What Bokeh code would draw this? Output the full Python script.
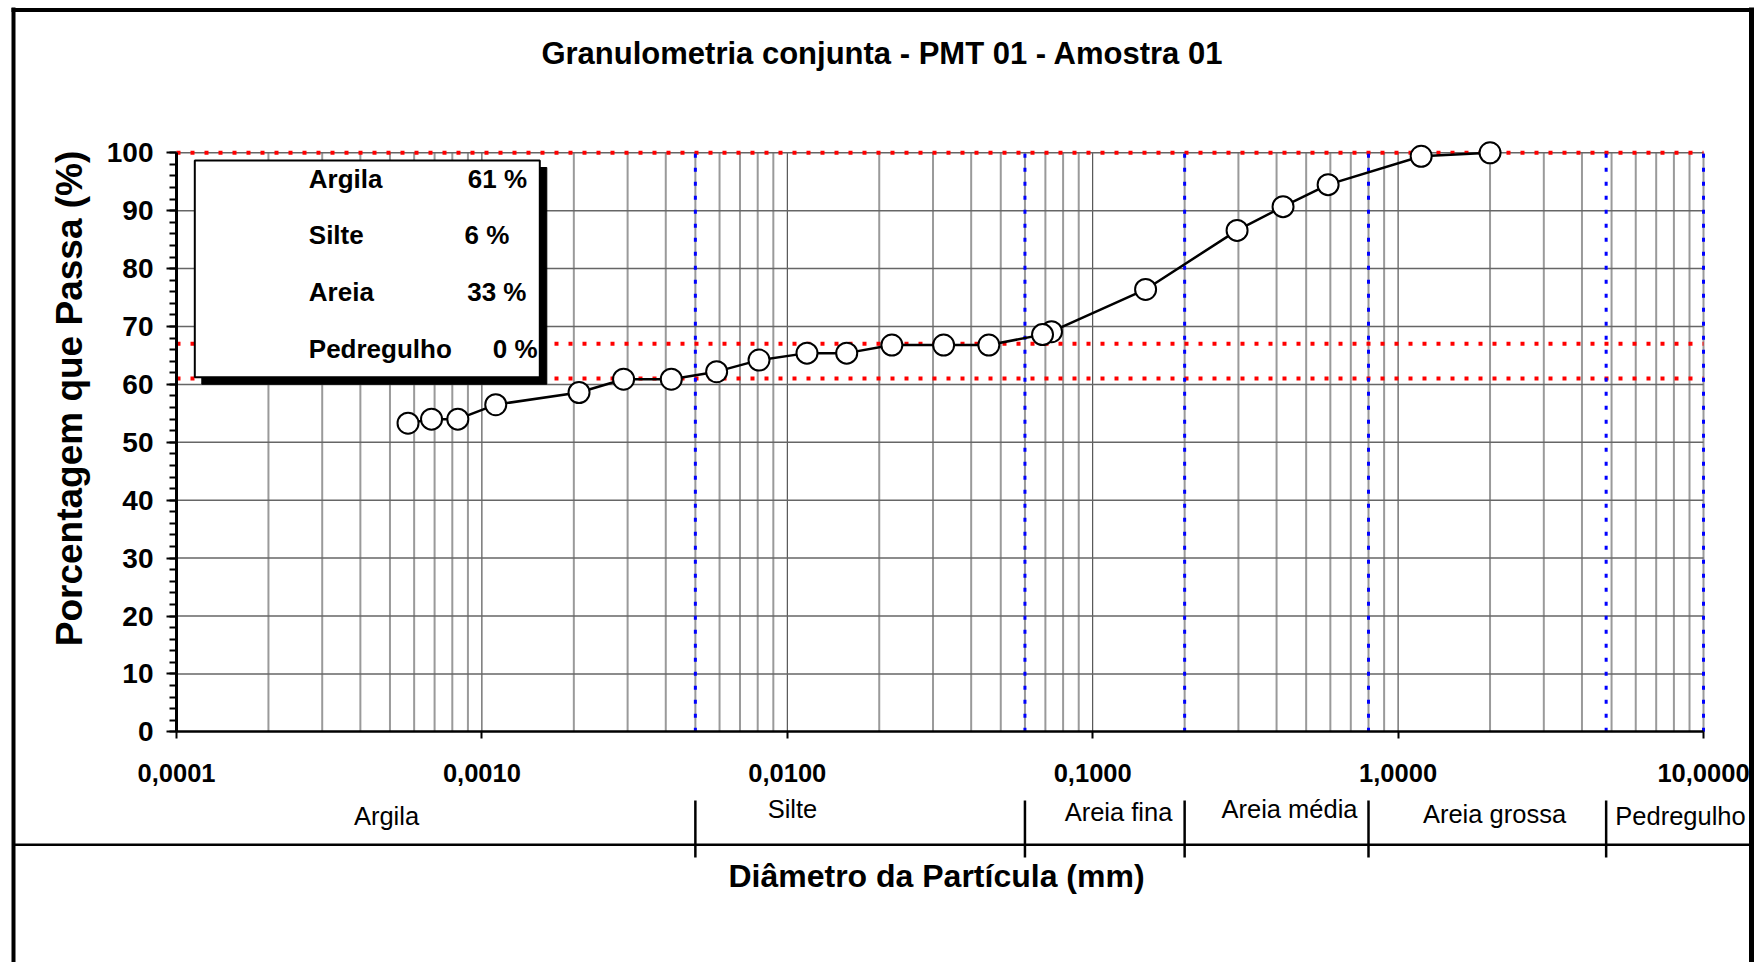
import math
from bokeh.plotting import figure
from bokeh.models import (Range1d, LinearAxis, LogAxis, FixedTicker,
                          SingleIntervalTicker, CustomJSTickFormatter)
from bokeh.core.properties import value
from bokeh.embed import file_html
from bokeh.resources import INLINE

# ---------------- data ----------------
title_text = "Granulometria conjunta - PMT 01 - Amostra 01"
x_title = "Diâmetro da Partícula (mm)"
y_title = "Porcentagem que Passa (%)"

diameter_mm = [2.0, 1.19, 0.59, 0.42, 0.297, 0.149, 0.0733, 0.0685,
               0.0457, 0.0325, 0.0220, 0.01565, 0.0116, 0.00808, 0.00587,
               0.00417, 0.00291, 0.00208, 0.00111, 0.000834, 0.000684, 0.000573]
percent_passing = [100, 99.4, 94.5, 90.7, 86.6, 76.4, 69.1, 68.6,
                   66.8, 66.8, 66.8, 65.4, 65.4, 64.2, 62.2,
                   60.9, 60.9, 58.6, 56.5, 54.0, 54.0, 53.3]

fraction_names = ["Argila", "Silte", "Areia", "Pedregulho"]
fraction_pct = [61, 6, 33, 0]

class_names = ["Argila", "Silte", "Areia fina", "Areia média", "Areia grossa", "Pedregulho"]
class_limits_mm = [0.005, 0.06, 0.2, 0.8, 4.8]

x_ticks_mm = [0.0001, 0.001, 0.01, 0.1, 1.0, 10.0]
y_min, y_max, y_step = 0, 100, 10

# ---------------- layout (page pixels -> data) ----------------
W, H = 1756, 962
OFF = 0
X0_PX, DEC_PX = 176.0, 305.4      # page x of first decade, px per decade
Y0_PX, UNIT_PX = 731.3, 5.79      # page y of 0 %, px per percent

def X(px):
    return 10 ** (math.log10(x_ticks_mm[0]) + (px - X0_PX) / DEC_PX)

def Y(py):
    return (Y0_PX - py) / UNIT_PX

FONT = value("Liberation Sans")

p = figure(width=W, height=H, x_axis_type="log",
           x_range=Range1d(X(OFF), X(OFF + W)),
           y_range=Range1d(Y(OFF + H), Y(OFF)),
           x_axis_location=None, y_axis_location=None,
           toolbar_location=None, output_backend="svg", title=None,
           min_border=0)
p.grid.visible = False
p.outline_line_color = None
p.background_fill_color = "white"
p.border_fill_color = "white"

xmin, xmax = x_ticks_mm[0], x_ticks_mm[-1]

# ---------------- grid ----------------
minor_x, major_x = [], []
for d in x_ticks_mm[:-1]:
    for k in range(2, 10):
        minor_x.append(d * k)
for d in x_ticks_mm[1:]:
    major_x.append(d)
p.segment(x0=minor_x, y0=y_min, x1=minor_x, y1=y_max, line_color="#9a9a9a", line_width=2)
p.segment(x0=major_x[:-1], y0=y_min, x1=major_x[:-1], y1=y_max, line_color="#333333", line_width=1)
p.segment(x0=[xmax], y0=y_min, x1=[xmax], y1=y_max, line_color="#9a9a9a", line_width=2)
hy = list(range(y_min + y_step, y_max + 1, y_step))
p.segment(x0=xmin, y0=hy, x1=xmax, y1=hy, line_color="#666666", line_width=1.5)

# ---------------- reference lines ----------------
cum = []
s = 0
for v in fraction_pct:
    s += v
    if s not in cum:
        cum.append(s)
p.segment(x0=xmin, y0=cum, x1=xmax, y1=cum, line_color="#ff0000",
          line_width=4, line_dash="4 10")
blue_x = class_limits_mm + [xmax]
p.segment(x0=blue_x, y0=y_min, x1=blue_x, y1=y_max, line_color="#0000ff",
          line_width=3, line_dash="4 10")

# ---------------- curve ----------------
p.line(diameter_mm, percent_passing, line_color="black", line_width=2.5)
p.scatter(diameter_mm, percent_passing, size=21, marker="circle",
          fill_color="white", line_color="black", line_width=2)

# ---------------- axes ----------------
yaxis = LinearAxis(fixed_location=xmin, bounds=(y_min, y_max),
                   ticker=SingleIntervalTicker(interval=y_step, num_minor_ticks=5))
yaxis.axis_line_width = 3
yaxis.axis_line_color = "black"
yaxis.major_tick_out = 10
yaxis.major_tick_in = 0
yaxis.minor_tick_out = 7
yaxis.minor_tick_in = 0
yaxis.major_tick_line_width = 2
yaxis.minor_tick_line_width = 2
yaxis.major_label_text_font = "Liberation Sans"
yaxis.major_label_text_font_style = "bold"
yaxis.major_label_text_font_size = "28px"
yaxis.major_label_text_color = "black"
yaxis.major_label_standoff = 13
p.add_layout(yaxis, "left")

xaxis = LogAxis(fixed_location=y_min, bounds=(xmin, xmax),
                ticker=FixedTicker(ticks=x_ticks_mm, minor_ticks=[]),
                formatter=CustomJSTickFormatter(code="return tick.toFixed(4).replace('.', ',');"))
xaxis.axis_line_width = 2.5
xaxis.axis_line_color = "black"
xaxis.major_tick_out = 7
xaxis.major_tick_in = 0
xaxis.major_tick_line_width = 2
xaxis.minor_tick_line_color = None
xaxis.major_label_text_font = "Liberation Sans"
xaxis.major_label_text_font_style = "bold"
xaxis.major_label_text_font_size = "25.5px"
xaxis.major_label_text_color = "black"
xaxis.major_label_standoff = 25
p.add_layout(xaxis, "below")

# ---------------- legend box ----------------
bx0, by0, bx1, by1, sh = 194.3, 160.0, 539.3, 376.7, 7
p.quad(left=[X(bx0 + sh)], right=[X(bx1 + sh)], top=[Y(by0 + sh)], bottom=[Y(by1 + sh)],
       fill_color="black", line_color="black")
p.quad(left=[X(bx0)], right=[X(bx1)], top=[Y(by0)], bottom=[Y(by1)],
       fill_color="white", line_color="black", line_width=2)
name_px = 308.3
row_baseline_px = [178.7, 234.7, 291.3, 348.0]
pct_left_px = [467.3, 464.0, 466.7, 492.3]
p.text(x=[X(name_px)] * len(fraction_names), y=[Y(b) for b in row_baseline_px],
       text=fraction_names, text_font=FONT, text_font_style="bold",
       text_font_size="26px", text_align="left", text_baseline="alphabetic",
       text_color="black")
p.text(x=[X(v) for v in pct_left_px], y=[Y(b) for b in row_baseline_px],
       text=[f"{v} %" for v in fraction_pct], text_font=FONT, text_font_style="bold",
       text_font_size="26px", text_align="left", text_baseline="alphabetic",
       text_color="black")

# ---------------- classification band ----------------
band_y_px = 844.3
p.segment(x0=[X(13)], y0=[Y(band_y_px)], x1=[X(1751)], y1=[Y(band_y_px)],
          line_color="black", line_width=2.5)
p.segment(x0=class_limits_mm, y0=Y(800), x1=class_limits_mm, y1=Y(857),
          line_color="black", line_width=2.5)
class_cx_px = [386, 792, 1118, 1289, 1494, 1680]
class_base_px = [815, 808, 811, 808, 813, 815]
p.text(x=[X(v) for v in class_cx_px], y=[Y(v) for v in class_base_px], text=class_names,
       text_font=FONT, text_font_size="25.5px", text_align="center",
       text_baseline="alphabetic", text_color="black")

# ---------------- titles ----------------
p.text(x=[X(882)], y=[Y(52.7)], text=[title_text], text_font=FONT,
       text_font_style="bold", text_font_size="31px", text_align="center",
       text_baseline="alphabetic", text_color="black")
p.text(x=[X(936)], y=[Y(875)], text=[x_title], text_font=FONT,
       text_font_style="bold", text_font_size="32px", text_align="center",
       text_baseline="alphabetic", text_color="black")
p.text(x=[X(69)], y=[Y(398)], text=[y_title], text_font=FONT, angle=math.pi / 2,
       text_font_style="bold", text_font_size="37px", text_align="center",
       text_baseline="middle", text_color="black")

# ---------------- outer border ----------------
p.segment(x0=[X(13), X(11), X(1751)], y0=[Y(7), Y(9.5), Y(7)],
          x1=[X(13), X(1753.5), X(1751)], y1=[Y(962), Y(9.5), Y(962)],
          line_color="black", line_width=[4, 4, 5])

open("out.html", "w").write(file_html(p, INLINE))
